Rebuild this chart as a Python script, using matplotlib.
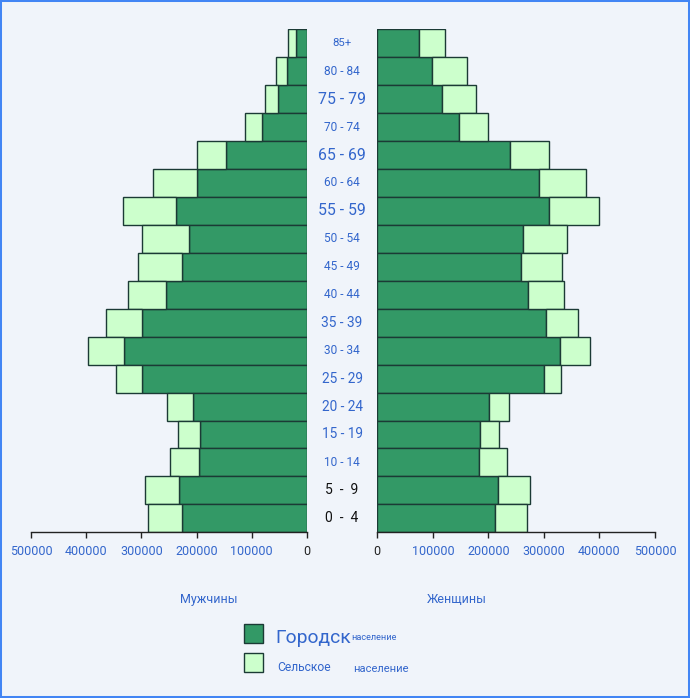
import matplotlib
matplotlib.use("Agg")
import matplotlib.pyplot as plt
from matplotlib.patches import Rectangle

plt.rcParams['font.family'] = ['Roboto', 'DejaVu Sans']

# ---- data (top row = 85+, bottom = 0-4) ----
age_groups = ["85+", "80 - 84", "75 - 79", "70 - 74", "65 - 69", "60 - 64", "55 - 59",
              "50 - 54", "45 - 49", "40 - 44", "35 - 39", "30 - 34", "25 - 29",
              "20 - 24", "15 - 19", "10 - 14", "5  -  9", "0  -  4"]
men_urban = [20500, 35700, 52000, 82000, 146000, 199800, 236700, 213100, 225800,
             254800, 298300, 330900, 298300, 206000, 193200, 195000, 231300, 225800]
men_total = [33900, 55600, 75500, 111700, 198700, 278400, 332700, 298300, 305600,
             323700, 363500, 396200, 345400, 253000, 233000, 247600, 292900, 287400]
women_urban = [74300, 97800, 115900, 146700, 239100, 291700, 309800, 262700, 259100,
               271700, 304300, 329700, 300700, 201100, 184800, 183000, 217400, 212000]
women_total = [121400, 161200, 177500, 199300, 309800, 375000, 398600, 342400, 333300,
               337000, 360500, 382200, 331500, 237300, 219200, 233700, 275400, 269900]
men_rural = [t - u for t, u in zip(men_total, men_urban)]
women_rural = [t - u for t, u in zip(women_total, women_urban)]
tick_values = [0, 100000, 200000, 300000, 400000, 500000]
tick_labels = ["0", "100000", "200000", "300000", "400000", "500000"]
legend_urban = "Городск"
legend_urban_small = "население"
legend_rural = "Сельское"
legend_rural_small = "население"
men_title = "Мужчины"
women_title = "Женщины"

# ---- styles ----
DARK = "#339966"
LIGHT = "#ccffcc"
EDGE = "#1b3a35"
BLUE = "#3366cc"
BG = "#f0f4fa"
label_sizes = [8.2, 8.6, 11.4, 8.6, 11.4, 8.6, 11.4, 8.6, 8.6, 8.6, 9.9, 8.6, 9.8,
               9.8, 9.8, 8.6, 10.0, 10.0]
label_colors = [BLUE] * 16 + ["#111111", "#111111"]

W, H = 690, 698
fig = plt.figure(figsize=(W / 100, H / 100), dpi=100)
fig.patch.set_facecolor(BG)

top_px, bot_px = 29.3, 532.3
ax_b = (H - bot_px) / H
ax_h = (bot_px - top_px) / H
axL = fig.add_axes([31 / W, ax_b, (307 - 31) / W, ax_h])
axR = fig.add_axes([377.3 / W, ax_b, (655 - 377.3) / W, ax_h])

n = len(age_groups)
ypos = list(range(n - 1, -1, -1))

for ax, urban, rural in ((axL, men_urban, men_rural), (axR, women_urban, women_rural)):
    ax.set_facecolor("none")
    ax.barh(ypos, urban, height=1.0, color=DARK, edgecolor=EDGE, linewidth=1.0)
    ax.barh(ypos, rural, left=urban, height=1.0, color=LIGHT, edgecolor=EDGE, linewidth=1.0)
    ax.set_ylim(-0.5, n - 0.5)
    ax.set_yticks([])
    for s in ("top", "left", "right"):
        ax.spines[s].set_visible(False)
    ax.spines["bottom"].set_color("#222222")
    ax.spines["bottom"].set_linewidth(1.0)
    ax.set_xticks(tick_values)
    ax.set_xticklabels(tick_labels)
    ax.tick_params(axis="x", length=4, width=1.0, color="#222222", pad=5.5,
                   labelsize=9, labelcolor=BLUE)
    for lbl in ax.get_xticklabels():
        if lbl.get_text() == "0":
            lbl.set_color("#222222")

axL.set_xlim(500000, 0)
axR.set_xlim(0, 500000)

# age labels in the middle
row_h = (bot_px - top_px) / n
for i, (lab, sz, col) in enumerate(zip(age_groups, label_sizes, label_colors)):
    yc = top_px + row_h * (i + 0.5)
    fig.text(342 / W, 1 - yc / H, lab, ha="center", va="center", fontsize=sz, color=col)

# sex titles
fig.text(208.7 / W, 1 - 599.5 / H, men_title, ha="center", va="center", fontsize=9, color=BLUE)
fig.text(456.7 / W, 1 - 599.5 / H, women_title, ha="center", va="center", fontsize=9, color=BLUE)

# legend
fig.patches.append(Rectangle((244 / W, 1 - 643 / H), 19 / W, 19 / H, transform=fig.transFigure,
                             facecolor=DARK, edgecolor=EDGE, linewidth=1.0))
fig.patches.append(Rectangle((244 / W, 1 - 672 / H), 19 / W, 19 / H, transform=fig.transFigure,
                             facecolor=LIGHT, edgecolor=EDGE, linewidth=1.0))
fig.text(275 / W, 1 - 638 / H, legend_urban, ha="left", va="center", fontsize=13.9, color=BLUE)
fig.text(351 / W, 1 - 637 / H, legend_urban_small, ha="left", va="center", fontsize=6.6, color=BLUE)
fig.text(277 / W, 1 - 667.5 / H, legend_rural, ha="left", va="center", fontsize=8.7, color=BLUE)
fig.text(353 / W, 1 - 669 / H, legend_rural_small, ha="left", va="center", fontsize=8, color=BLUE)

# blue frame
fig.patches.append(Rectangle((0, 0), 1, 1, transform=fig.transFigure, fill=False,
                             edgecolor="#4285f4", linewidth=2.9))

fig.savefig("out.png", dpi=100, facecolor=BG)
